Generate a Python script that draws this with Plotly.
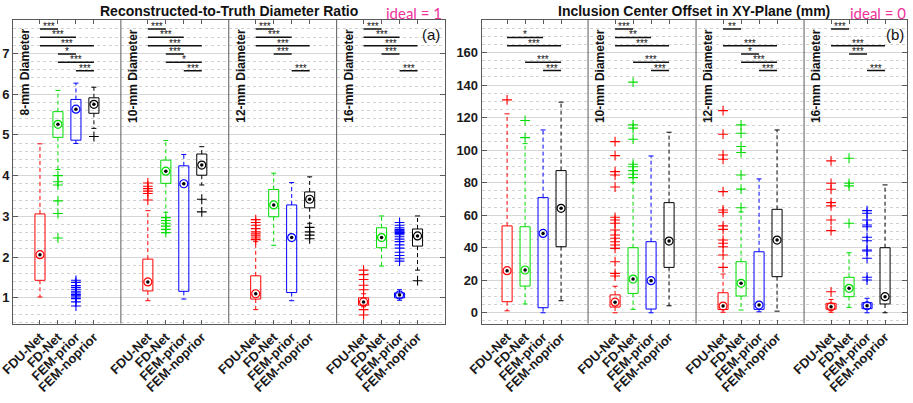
import plotly.graph_objects as go

# ---------------- data ----------------
methods = ["FDU-Net", "FD-Net", "FEM-prior", "FEM-noprior"]
diameters = ["8-mm Diameter", "10-mm Diameter", "12-mm Diameter", "16-mm Diameter"]
method_colors = ["#ff0000", "#00dd00", "#0000ff", "#000000"]

# Panel (a): Reconstructed-to-Truth Diameter Ratio  (rows: diameter, cols: method)
ratio_lo = [[1.02, 4.15, 4.79, 5.16], [0.93, 3.10, 0.97, 3.77],
            [0.71, 2.29, 0.93, 2.83], [0.78, 1.78, 0.94, 1.68]]
ratio_q1 = [[1.43, 4.94, 4.87, 5.53], [1.17, 3.81, 1.16, 4.01],
            [0.97, 2.99, 1.13, 3.21], [0.82, 2.23, 1.00, 2.27]]
ratio_med = [[2.06, 5.26, 5.63, 5.75], [1.39, 4.11, 3.80, 4.26],
             [1.10, 3.28, 2.48, 3.42], [0.90, 2.48, 1.07, 2.52]]
ratio_q3 = [[3.06, 5.57, 5.87, 5.91], [1.95, 4.38, 4.24, 4.53],
            [1.54, 3.66, 3.28, 3.60], [1.00, 2.72, 1.12, 2.69]]
ratio_hi = [[4.78, 6.09, 6.27, 6.17], [3.14, 4.86, 4.52, 4.71],
            [2.38, 4.06, 3.83, 3.97], [1.10, 3.01, 1.20, 3.01]]
ratio_out = [
    [[], [4.00, 3.85, 3.77, 3.38, 3.07, 2.47],
     [1.43, 1.38, 1.30, 1.25, 1.20, 1.15, 1.12, 1.08, 1.05, 1.02, 0.98, 0.90, 0.80], [4.96]],
    [[3.82, 3.74, 3.68, 3.62, 3.56, 3.40], [2.97, 2.90, 2.83, 2.76, 2.68, 2.60], [], [3.42, 3.11]],
    [[2.92, 2.85, 2.78, 2.70, 2.62, 2.57, 2.52, 2.47, 2.43], [], [], [2.73, 2.62, 2.54, 2.45]],
    [[1.68, 1.57, 1.45, 1.31, 1.20, 0.71, 0.58], [],
     [2.85, 2.78, 2.72, 2.68, 2.66, 2.64, 2.62, 2.60, 2.58, 2.55, 2.50, 2.44, 2.38, 2.30,
      2.22, 2.12, 2.04, 1.96, 1.90], [1.42]],
]
ratio_sig = [
    [(0, 1, "***"), (0, 2, "***"), (0, 3, "***"), (1, 2, "*"), (1, 3, "***"), (2, 3, "***")],
    [(0, 1, "***"), (0, 2, "***"), (0, 3, "***"), (1, 2, "***"), (1, 3, "*"), (2, 3, "***")],
    [(0, 1, "***"), (0, 2, "***"), (0, 3, "***"), (1, 2, "***"), (2, 3, "***")],
    [(0, 1, "***"), (0, 2, "***"), (0, 3, "***"), (1, 2, "***"), (2, 3, "***")],
]

# Panel (b): Inclusion Center Offset in XY-Plane (mm)
offset_lo = [[1.2, 5.4, 0.0, 7.4], [0.0, 2.1, 0.0, 4.3],
             [0.3, 1.7, 0.6, 1.0], [0.3, 3.3, 0.0, 0.0]]
offset_q1 = [[6.8, 16.4, 3.1, 40.6], [3.5, 11.9, 2.3, 27.9],
             [2.0, 10.3, 2.1, 22.2], [2.2, 9.9, 2.5, 5.4]]
offset_med = [[25.9, 26.3, 48.8, 64.2], [6.5, 20.7, 19.7, 44.1],
              [4.1, 18.1, 4.7, 44.7], [3.7, 15.0, 4.3, 9.9]]
offset_q3 = [[53.4, 52.9, 70.8, 87.4], [11.0, 40.0, 43.7, 67.7],
             [12.3, 31.4, 37.5, 63.6], [5.8, 21.8, 6.2, 40.0]]
offset_hi = [[122.3, 104.0, 112.4, 129.5], [16.3, 80.0, 96.4, 111.0],
             [23.8, 62.0, 82.3, 112.4], [8.2, 36.9, 8.9, 78.6]]
offset_out = [
    [[130.9], [107.7, 118.2], [], []],
    [[105.2, 96.6, 86.8, 84.7, 77.3, 58.7, 57.0, 55.0, 50.9, 47.8, 45.8, 43.7, 41.7, 39.6,
      31.4, 24.2, 22.6],
     [141.8, 115.5, 113.5, 106.7, 91.3, 89.8, 87.4, 85.2, 83.1], [], []],
    [[124.3, 109.8, 97.0, 94.4, 74.5, 63.2, 61.8, 53.4, 51.3, 44.7, 42.7, 40.6, 35.5, 27.9],
     [115.5, 110.4, 102.2, 98.5, 84.7, 76.0, 64.6], [], []],
    [[93.4, 79.6, 75.9, 67.7, 65.7, 57.0, 50.5, 12.9], [95.0, 79.6, 78.0, 55.0],
     [62.8, 61.2, 57.0, 54.0, 52.9, 46.4, 44.3, 38.6, 38.0, 33.5, 21.8, 20.1], []],
]
offset_sig = [
    [(0, 2, "*"), (0, 3, "***"), (1, 3, "***"), (2, 3, "***")],
    [(0, 1, "***"), (0, 2, "**"), (0, 3, "***"), (1, 3, "***"), (2, 3, "***")],
    [(0, 1, "**"), (0, 3, "***"), (1, 2, "*"), (1, 3, "***"), (2, 3, "***")],
    [(0, 1, "***"), (0, 3, "***"), (1, 2, "***"), (2, 3, "***")],
]

# ---------------- style / layout constants ----------------
FONT = "Liberation Sans, Arial, sans-serif"
AX = "#5a5a5a"
W, H = 913, 403
GROUP_SPAN = 6
BOX_HW = 0.28
CAP_HW = 0.14
SIG_LEVELS = [(0, 1), (0, 2), (0, 3), (1, 2), (1, 3), (2, 3)]
Y_DOM = [1 - 323.5 / H, 1 - 20 / H]

fig = go.Figure()
annotations = []
shapes = []


def pos(g, k):
    return g * GROUP_SPAN + k + 1


def add_panel(xa, ya, lo, q1, med, q3, hi, out, sig, sig_top, sig_step):
    xref = xa
    yref = ya
    for k, col in enumerate(method_colors):
        bx, by, wx, wy, cx, cy, ox, oy, mx, my = [], [], [], [], [], [], [], [], [], []
        for g in range(len(diameters)):
            x = pos(g, k)
            bx += [x - BOX_HW, x + BOX_HW, x + BOX_HW, x - BOX_HW, x - BOX_HW, None]
            by += [q1[g][k], q1[g][k], q3[g][k], q3[g][k], q1[g][k], None]
            wx += [x, x, None, x, x, None]
            wy += [q3[g][k], hi[g][k], None, q1[g][k], lo[g][k], None]
            cx += [x - CAP_HW, x + CAP_HW, None, x - CAP_HW, x + CAP_HW, None]
            cy += [hi[g][k], hi[g][k], None, lo[g][k], lo[g][k], None]
            ox += [x] * len(out[g][k])
            oy += out[g][k]
            mx.append(x)
            my.append(med[g][k])
        common = dict(xaxis=xa, yaxis=ya, showlegend=False, hoverinfo="skip")
        fig.add_trace(go.Scatter(x=wx, y=wy, mode="lines",
                                 line=dict(color=col, width=1, dash="4px,3px"), **common))
        fig.add_trace(go.Scatter(x=cx, y=cy, mode="lines",
                                 line=dict(color=col, width=1), **common))
        fig.add_trace(go.Scatter(x=bx, y=by, mode="lines",
                                 line=dict(color=col, width=1), **common))
        fig.add_trace(go.Scatter(x=ox, y=oy, mode="markers",
                                 marker=dict(symbol="cross-thin", size=7,
                                             line=dict(color=col, width=1.1)), **common))
        fig.add_trace(go.Scatter(x=mx, y=my, mode="markers",
                                 marker=dict(symbol="circle-open", size=8, color=col,
                                             line=dict(width=1.2)), **common))
        fig.add_trace(go.Scatter(x=mx, y=my, mode="markers",
                                 marker=dict(symbol="circle", size=3.5, color="black"), **common))
    # significance bars
    sx, sy = [], []
    for g, pairs in enumerate(sig):
        for (i, j, label) in pairs:
            lvl = SIG_LEVELS.index((i, j))
            y = sig_top - lvl * sig_step
            x1, x2 = pos(g, i), pos(g, j)
            sx += [x1, x2, None]
            sy += [y, y, None]
            annotations.append(dict(x=(x1 + x2) / 2, y=y, xref=xref, yref=yref, text=label,
                                    showarrow=False, yanchor="bottom", yshift=-4,
                                    borderpad=0,
                                    font=dict(family=FONT, size=10, color="#111")))
    fig.add_trace(go.Scatter(x=sx, y=sy, mode="lines", line=dict(color="#111", width=1.5),
                             xaxis=xa, yaxis=ya, showlegend=False, hoverinfo="skip"))
    # group dividers and diameter labels
    for g, name in enumerate(diameters):
        left = g * GROUP_SPAN - 0.5
        if g > 0:
            shapes.append(dict(type="line", xref=xref, yref=yref + " domain",
                               x0=left, x1=left, y0=0, y1=1,
                               line=dict(color=AX, width=1)))
        annotations.append(dict(x=left, y=1 - 27 / H, xref=xref, yref="paper",
                                text="<b>" + name + "</b>", textangle=-90, showarrow=False,
                                xanchor="center", yanchor="top", xshift=12,
                                font=dict(family=FONT, size=12, color="#111")))


add_panel("x", "y", ratio_lo, ratio_q1, ratio_med, ratio_q3, ratio_hi, ratio_out,
          ratio_sig, 7.6, 0.205)
add_panel("x2", "y2", offset_lo, offset_q1, offset_med, offset_q3, offset_hi, offset_out,
          offset_sig, 174.4, 5.1)

tickvals = [pos(g, k) for g in range(len(diameters)) for k in range(len(methods))]
ticktext = methods * len(diameters)

xcommon = dict(tickvals=tickvals, ticktext=ticktext, tickangle=-45, ticks="inside",
               ticklen=4, tickcolor=AX, showline=True, linecolor=AX, linewidth=1,
               mirror="ticks", showgrid=False, zeroline=False, automargin=False,
               ticklabeloverflow="allow",
               tickfont=dict(family=FONT, size=13, color="#1a1a1a", weight="bold"))
ycommon = dict(ticks="inside", ticklen=5, tickcolor=AX, showline=True, linecolor=AX,
               linewidth=1, mirror="ticks", showgrid=True, gridcolor="#d6d6d6",
               gridwidth=1, zeroline=False, automargin=False,
               ticklabeloverflow="allow",
               tickfont=dict(family=FONT, size=13, color="#1a1a1a", weight="bold"))

fig.update_layout(
    width=W, height=H, margin=dict(l=0, r=0, t=0, b=0), template="none",
    paper_bgcolor="white", plot_bgcolor="white",
    xaxis=dict(domain=[13 / W, 444.5 / W], range=[-0.5, 23.5], anchor="y", **xcommon),
    yaxis=dict(domain=Y_DOM, range=[0.37, 7.82], anchor="x", tickvals=[1, 2, 3, 4, 5, 6, 7],
               minor=dict(dtick=0.2, showgrid=True, gridcolor="#d2d2d2", griddash="dot",
                          ticks=""), **ycommon),
    xaxis2=dict(domain=[481.7 / W, 907 / W], range=[-0.41, 23.22], anchor="y2", **xcommon),
    yaxis2=dict(domain=Y_DOM, range=[-6.6, 180], anchor="x2",
                tickvals=[0, 20, 40, 60, 80, 100, 120, 140, 160],
                minor=dict(dtick=5, showgrid=True, gridcolor="#d2d2d2", griddash="dot",
                           ticks=""), **ycommon),
    shapes=shapes,
)

annotations += [
    dict(x=0.5, xref="x domain", y=1 - 11 / H, yref="paper", showarrow=False,
         text="<b>Reconstructed-to-Truth Diameter Ratio</b>", yanchor="middle",
         font=dict(family=FONT, size=14, color="#111")),
    dict(x=0.5, xref="x2 domain", y=1 - 11 / H, yref="paper", showarrow=False,
         text="<b>Inclusion Center Offset in XY-Plane (mm)</b>", yanchor="middle",
         font=dict(family=FONT, size=14, color="#111")),
    dict(x=1, xref="x domain", y=1 - 13 / H, yref="paper", showarrow=False,
         text="ideal = 1", xanchor="right", yanchor="middle", xshift=-1,
         font=dict(family="Lato, sans-serif", size=15, color="#f0329a")),
    dict(x=1, xref="x2 domain", y=1 - 13 / H, yref="paper", showarrow=False,
         text="ideal = 0", xanchor="right", yanchor="middle", xshift=1,
         font=dict(family="Lato, sans-serif", size=15, color="#f0329a")),
    dict(x=1, xref="x domain", y=1, yref="y domain", showarrow=False, text="(a)",
         xanchor="right", yanchor="top", xshift=-3, yshift=-4,
         font=dict(family=FONT, size=15, color="#111")),
    dict(x=1, xref="x2 domain", y=1, yref="y2 domain", showarrow=False, text="(b)",
         xanchor="right", yanchor="top", xshift=-1, yshift=-4,
         font=dict(family=FONT, size=15, color="#111")),
]
fig.update_layout(annotations=annotations)

fig.write_html("out.html", config={"displayModeBar": False},
               post_script="document.body.style.margin='0px';")
